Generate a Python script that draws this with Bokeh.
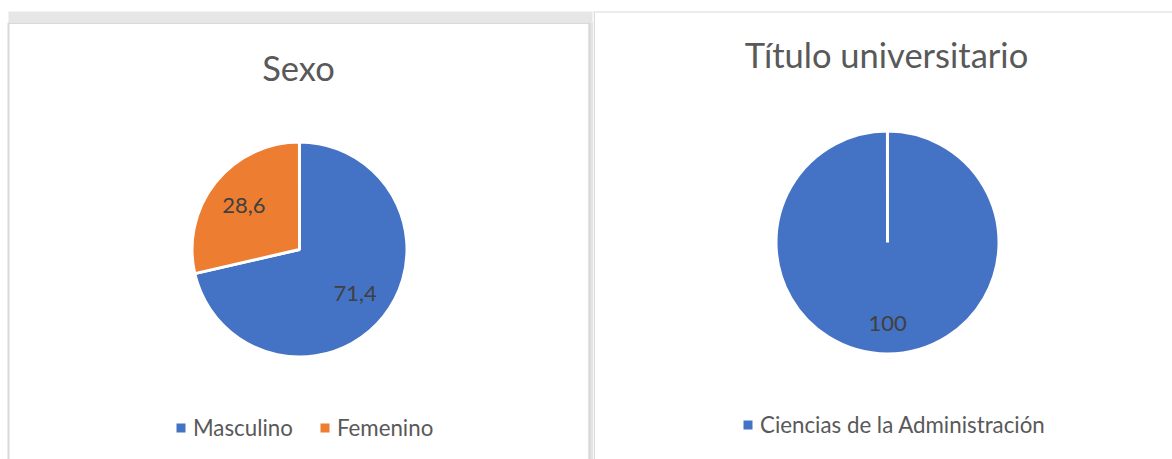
import numpy as np
from bokeh.plotting import figure
from bokeh.models import ColumnDataSource, Range1d, Label, Legend, LegendItem
from bokeh.layouts import row
from bokeh.embed import file_html
from bokeh.resources import INLINE
from bokeh.core.properties import value

# ---------------- data ----------------
sexo_title = "Sexo"
sexo_cats = ["Masculino", "Femenino"]
sexo_vals = [71.4, 28.6]
sexo_labels = ["71,4", "28,6"]
sexo_colors = ["#4472C4", "#ED7D31"]

titulo_title = "Título universitario"
titulo_cats = ["Ciencias de la Administración"]
titulo_vals = [100]
titulo_labels = ["100"]
titulo_colors = ["#4472C4"]

# ---------------- style ----------------
FONT = "Lato"
TITLE_COLOR = "#595959"
LEGEND_COLOR = "#595959"
LABEL_COLOR = "#404040"
TITLE_SIZE = "34.5px"
LABEL_SIZE = "22px"
LEGEND_SIZE = "22.3px"
W1, W2, H = 593, 579, 459


def Y(fy):
    return H - fy


def make_fig(width):
    p = figure(width=width, height=H, x_range=Range1d(0, width), y_range=Range1d(0, H),
               output_backend="svg", toolbar_location=None, min_border=0,
               x_axis_location=None, y_axis_location=None,
               outline_line_color=None, background_fill_color="white",
               border_fill_color="white")
    p.grid.visible = False
    return p


def pie(p, cats, vals, labels, colors, cx, cy, r, label_frac, title, tx, ty,
        legend_loc, legend_spacing):
    v = np.asarray(vals, dtype=float)
    frac = v / v.sum()
    cum = np.concatenate([[0.0], np.cumsum(frac)])
    start = np.pi / 2 - 2 * np.pi * cum[:-1]
    end = np.pi / 2 - 2 * np.pi * cum[1:] * (1 - 1e-4)
    mid = (start + end) / 2
    src = ColumnDataSource(dict(cat=cats, val=list(vals), lab=labels, color=colors,
                                start=start, end=end,
                                lx=cx + label_frac * r * np.cos(mid),
                                ly=cy + label_frac * r * np.sin(mid)))
    rend = p.wedge(x=cx, y=cy, radius=r, start_angle="start", end_angle="end",
                   direction="clock", fill_color="color", line_color="white",
                   line_width=3, source=src)
    p.text(x="lx", y="ly", text="lab", source=src, text_align="center",
           text_baseline="middle", text_font=value(FONT),
           text_font_size=LABEL_SIZE, text_color=LABEL_COLOR)
    p.add_layout(Label(x=tx, y=ty, text=title, text_align="center",
                       text_baseline="middle", text_font=FONT,
                       text_font_size=TITLE_SIZE, text_color=TITLE_COLOR))
    items = [LegendItem(label=c, renderers=[rend], index=i) for i, c in enumerate(cats)]
    leg = Legend(items=items, orientation="horizontal", location=legend_loc,
                 padding=0, margin=0, spacing=legend_spacing,
                 glyph_width=15, glyph_height=15, label_standoff=5,
                 label_text_font=FONT, label_text_font_size=LEGEND_SIZE,
                 label_text_color=LEGEND_COLOR, border_line_color=None,
                 background_fill_alpha=0, label_text_baseline="middle")
    p.add_layout(leg, "center")


# ---------------- left chart ----------------
p1 = make_fig(W1)
p1.quad(left=8, right=592, top=Y(11), bottom=Y(22), fill_color="#e6e6e6", line_color=None)
p1.quad(left=8, right=590, top=Y(22), bottom=Y(23.5), fill_color="#d9d9d9", line_color=None)
p1.quad(left=7, right=9, top=Y(22), bottom=0, fill_color="#d9d9d9", line_color=None)
p1.quad(left=588, right=593, top=Y(22), bottom=0, fill_color="#e4e4e4", line_color=None)
p1.quad(left=588, right=590, top=Y(22), bottom=0, fill_color="#d6d6d6", line_color=None)
pie(p1, sexo_cats, sexo_vals, sexo_labels, sexo_colors,
    cx=299, cy=Y(249), r=107.5, label_frac=0.66,
    title=sexo_title, tx=298, ty=Y(67),
    legend_loc=(173, 18), legend_spacing=24)

# ---------------- right chart ----------------
p2 = make_fig(W2)
p2.quad(left=0, right=W2, top=Y(11), bottom=Y(12), fill_color="#d9d9d9", line_color=None)
p2.quad(left=0, right=1.5, top=Y(11), bottom=0, fill_color="#dcdcdc", line_color=None)
pie(p2, titulo_cats, titulo_vals, titulo_labels, titulo_colors,
    cx=294, cy=Y(242), r=111.5, label_frac=0.73,
    title=titulo_title, tx=293, ty=Y(54),
    legend_loc=(147, 21), legend_spacing=24)

layout = row(p1, p2, spacing=0)
open("out.html", "w").write(file_html(layout, INLINE))
